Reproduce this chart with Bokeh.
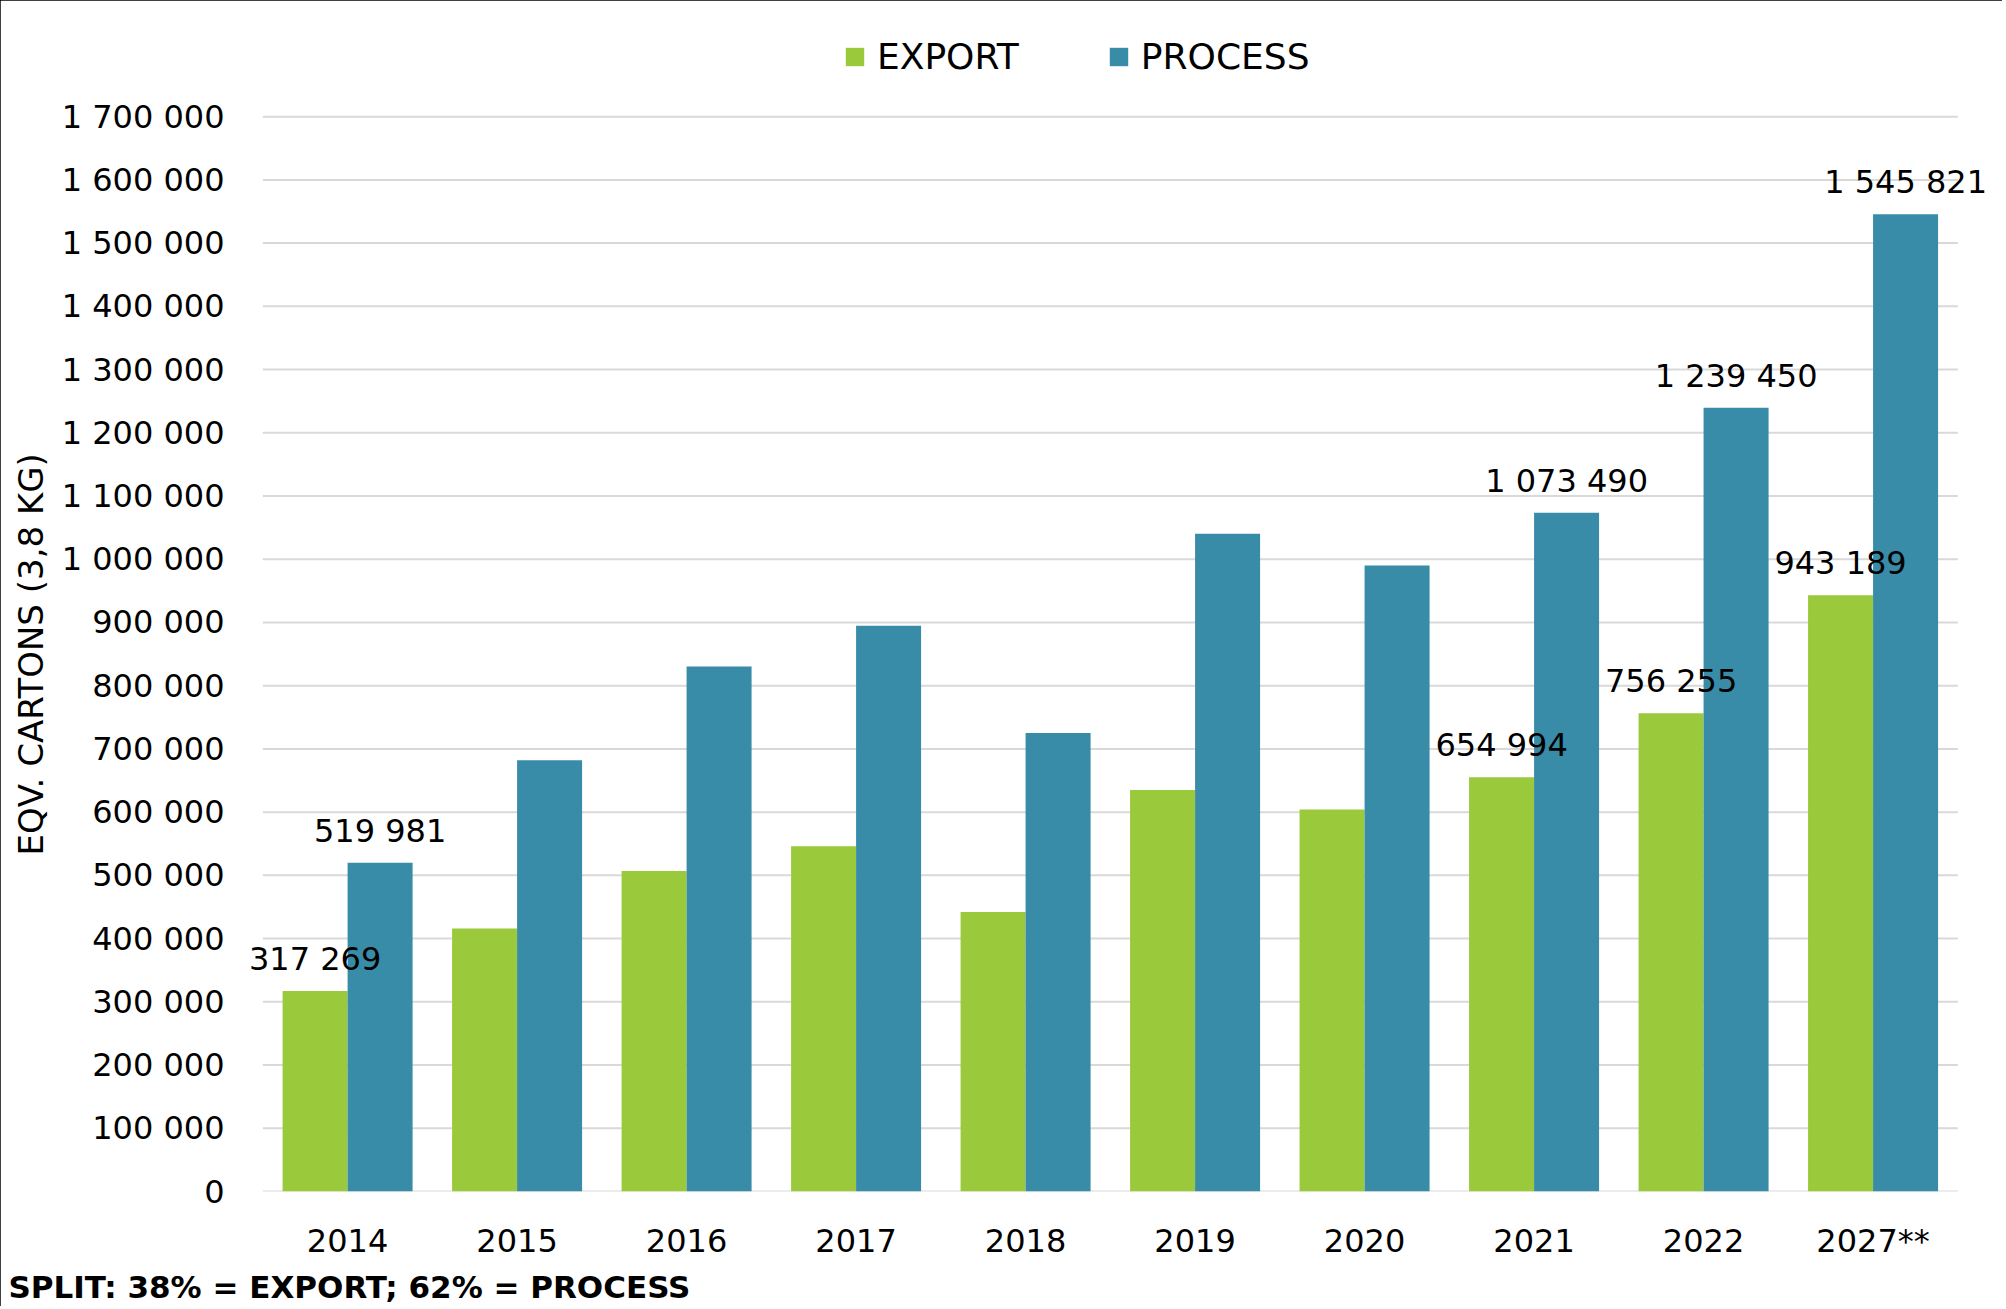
from bokeh.plotting import figure
from bokeh.models import (ColumnDataSource, Range1d, FixedTicker,
                          CustomJSTickFormatter, Legend, LegendItem, LabelSet, Title)
from bokeh.core.properties import value
from bokeh.transform import dodge
from bokeh.embed import file_html
from bokeh.resources import INLINE

# ---- data ----
years = ["2014", "2015", "2016", "2017", "2018", "2019", "2020", "2021", "2022", "2027**"]
export = [317269, 416000, 507000, 546000, 442000, 635000, 604000, 654994, 756255, 943189]
process = [519981, 682000, 830500, 895000, 725000, 1040500, 990000, 1073490, 1239450, 1545821]
labeled_years = ["2014", "2021", "2022", "2027**"]
y_ticks = list(range(0, 1700001, 100000))
y_title = "EQV. CARTONS (3,8 KG)"
note = "SPLIT: 38% = EXPORT; 62% = PROCESS"

GREEN = "#9ACA3C"
BLUE = "#388CA7"
GRID = "#D9D9D9"
FONT = "DejaVu Sans"

def fmt(v):
    return f"{v:,}".replace(",", " ")

# category slot centres on a numeric axis (one unit per year)
xc = [i + 0.5 for i in range(len(years))]
src = ColumnDataSource(dict(x=xc, year=years, export=export, process=process))

def label_source(vals):
    keep = [i for i, y in enumerate(years) if y in labeled_years]
    return ColumnDataSource(dict(x=[xc[i] for i in keep],
                                 v=[vals[i] for i in keep],
                                 t=[fmt(vals[i]) for i in keep]))

lab_exp = label_source(export)
lab_pro = label_source(process)

grid_src = ColumnDataSource(dict(y=y_ticks, x0=[0] * len(y_ticks),
                                 x1=[len(years)] * len(y_ticks)))

W, H = 2002, 1309
p = figure(x_range=Range1d(-0.12, len(years) + 0.24), y_range=Range1d(0, 1860000),
           width=W, height=H, output_backend="svg", toolbar_location=None,
           min_border_left=242, min_border_right=4, min_border_top=15,
           min_border_bottom=118)
p.outline_line_color = None
p.styles = {"outline": "3px solid black", "outline-offset": "-3px",
            "clip-path": "inset(0 0 3px 0)"}

# gridlines (incl. the zero line) limited to the category area
p.segment(x0="x0", x1="x1", y0="y", y1="y", source=grid_src,
          line_color=GRID, line_width=2)

BW = 0.3835
r_exp = p.vbar(x=dodge("x", -BW / 2), top="export", width=BW,
               source=src, fill_color=GREEN, line_color=None)
r_pro = p.vbar(x=dodge("x", BW / 2), top="process", width=BW,
               source=src, fill_color=BLUE, line_color=None)

for s, off in ((lab_exp, -BW / 2), (lab_pro, BW / 2)):
    p.add_layout(LabelSet(x=dodge("x", off), y="v", text="t",
                          source=s, text_align="center", text_baseline="alphabetic",
                          y_offset=21, text_font=value(FONT), text_font_size="32px",
                          text_color="black"))

# axes
p.yaxis.ticker = FixedTicker(ticks=y_ticks)
p.yaxis.formatter = CustomJSTickFormatter(
    code='return tick.toString().replace(/\\B(?=(\\d{3})+(?!\\d))/g, " ");')
p.yaxis.axis_line_color = None
p.yaxis.major_tick_line_color = None
p.yaxis.minor_tick_line_color = None
p.yaxis.major_label_text_font = FONT
p.yaxis.major_label_text_font_size = "32px"
p.yaxis.major_label_text_color = "black"
p.yaxis.major_label_standoff = 12

p.xaxis.ticker = FixedTicker(ticks=xc)
p.xaxis.major_label_overrides = {x: y for x, y in zip(xc, years)}
p.xaxis.axis_line_color = None
p.xaxis.major_tick_line_color = None
p.xaxis.minor_tick_line_color = None
p.xaxis.major_label_text_font = FONT
p.xaxis.major_label_text_font_size = "32px"
p.xaxis.major_label_text_color = "black"
p.xaxis.major_label_standoff = 24

p.xgrid.grid_line_color = None
p.ygrid.grid_line_color = None

legend = Legend(items=[LegendItem(label="EXPORT", renderers=[r_exp]),
                       LegendItem(label="PROCESS", renderers=[r_pro])],
                orientation="horizontal", location=(601, 1114),
                glyph_width=23, glyph_height=23, label_standoff=11, spacing=88,
                padding=0, margin=0, border_line_color=None,
                background_fill_alpha=0,
                label_text_font=FONT, label_text_font_size="36px",
                label_text_color="black")
p.add_layout(legend, "center")

p.add_layout(Title(text=y_title, align="left", text_font=FONT,
                   text_font_style="normal", text_font_size="34px",
                   text_color="black", offset=336, standoff=16), "left")

p.add_layout(Title(text=note, align="left", text_font=FONT, text_font_style="bold",
                   text_font_size="31px", text_color="black", offset=-234, standoff=9),
             "below")

open("out.html", "w").write(file_html(p, INLINE))
